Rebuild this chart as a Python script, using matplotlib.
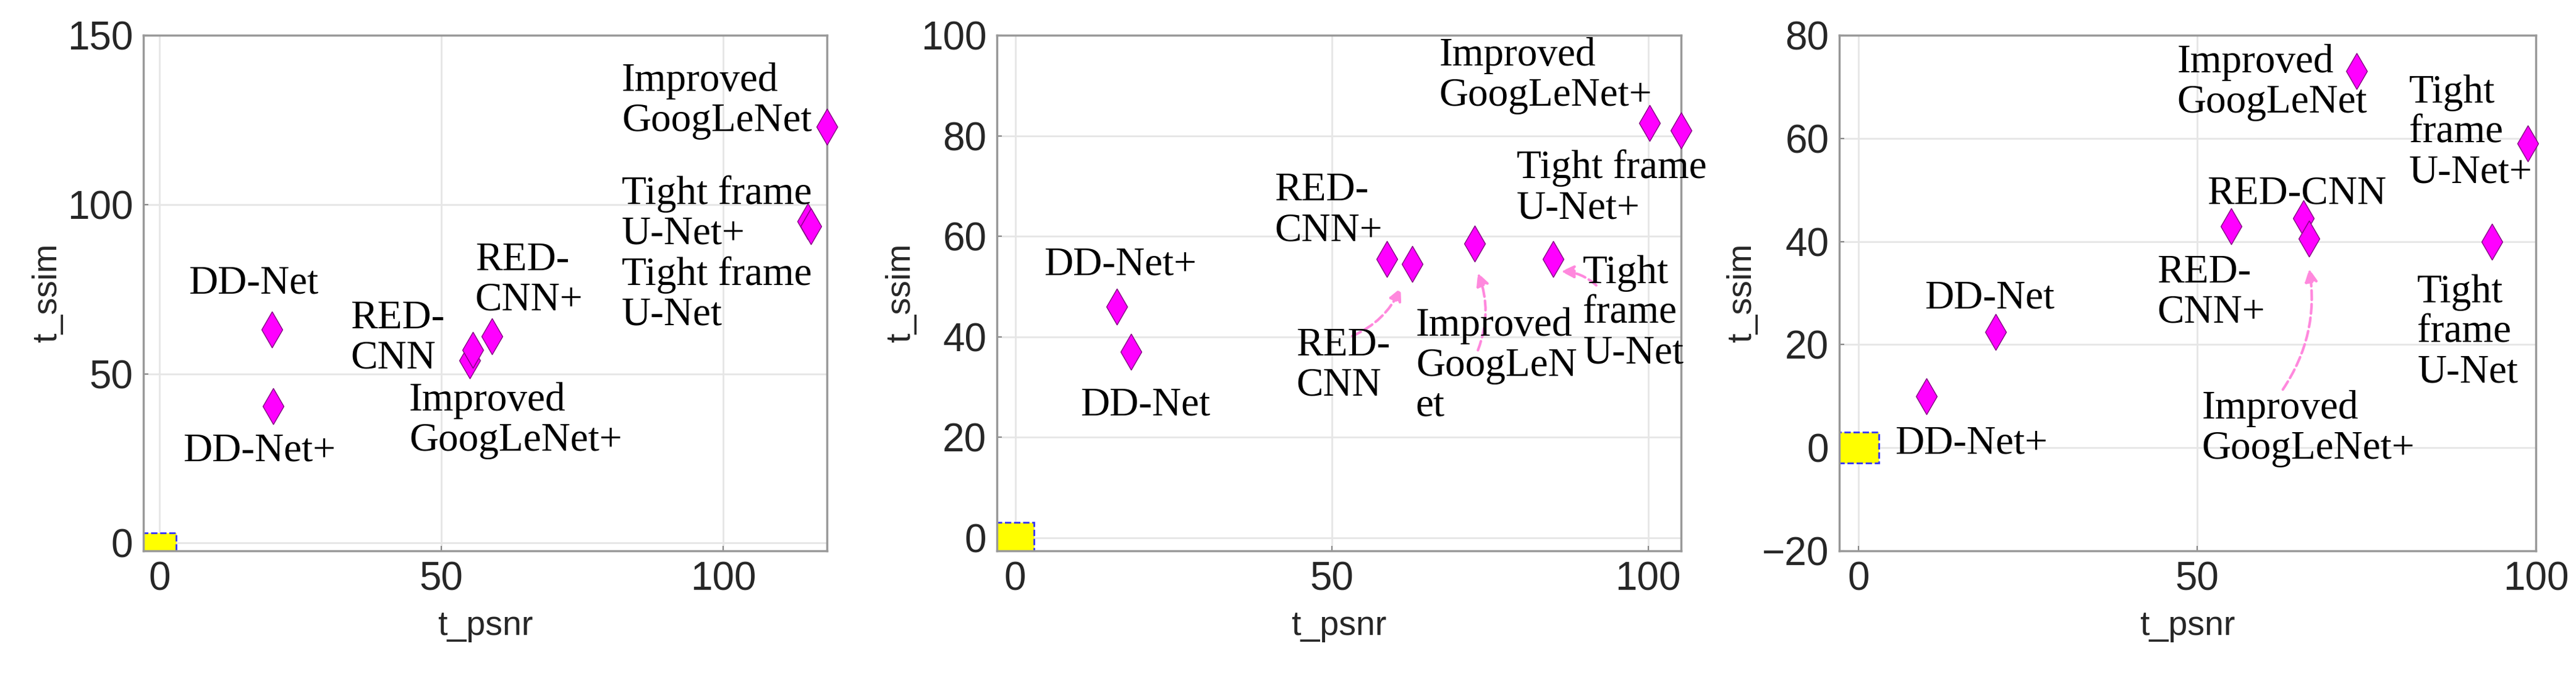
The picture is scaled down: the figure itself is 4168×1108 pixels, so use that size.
import matplotlib
matplotlib.use("Agg")
import matplotlib.pyplot as plt
from matplotlib.path import Path
from matplotlib.patches import Rectangle

plt.rcParams['font.family'] = ['Liberation Sans', 'DejaVu Sans']

W, H = 4168, 1108
# panel 1
p1_names = ["DD-Net", "DD-Net+", "RED-CNN", "Improved GoogLeNet+", "RED-CNN+", "Improved GoogLeNet", "Tight frame U-Net+", "Tight frame U-Net"]
p1_x = [20, 20.2, 55, 55.6, 59, 118.4, 115, 115.6]
p1_y = [63, 40.5, 54, 57, 61, 123, 95, 93.5]
p1_labels = [("Improved\nGoogLeNet", 82, 142), ("Tight frame\nU-Net+\nTight frame\nU-Net", 82, 108.7),
             ("DD-Net", 5.2, 82), ("RED-\nCNN", 33.9, 71.8), ("RED-\nCNN+", 56, 89),
             ("Improved\nGoogLeNet+", 44.3, 47.5), ("DD-Net+", 4.2, 32.6)]
# panel 2
p2_names = ["DD-Net+", "DD-Net", "RED-CNN+", "RED-CNN", "Improved GoogLeNet", "Tight frame U-Net", "Improved GoogLeNet+", "Tight frame U-Net+"]
p2_x = [16, 18.3, 58.7, 62.7, 72.6, 85, 100.2, 105.2]
p2_y = [46, 37, 55.5, 54.5, 58.5, 55.5, 82.5, 81]
p2_labels = [("Improved\nGoogLeNet+", 67, 99.6), ("Tight frame\nU-Net+", 79.2, 77.3), ("RED-\nCNN+", 41, 72.7),
             ("DD-Net+", 4.5, 57.9), ("DD-Net", 10.3, 30), ("Tight\nframe\nU-Net", 89.7, 56.3),
             ("Improved\nGoogLeN\net", 63.3, 45.9), ("RED-\nCNN", 44.4, 41.9)]
p2_arrows = [((53, 40), (61, 50)), ((73, 37), (73, 53)), ((92, 50), (86, 53))]
# panel 3
p3_names = ["DD-Net+", "DD-Net", "RED-CNN+", "RED-CNN", "Improved GoogLeNet+", "Improved GoogLeNet", "Tight frame U-Net", "Tight frame U-Net+"]
p3_x = [10, 20.2, 55, 65.7, 66.5, 73.5, 93.5, 98.8]
p3_y = [10, 22.5, 43, 44.5, 40.5, 73, 40, 59]
p3_labels = [("Improved\nGoogLeNet", 47, 78.3), ("Tight\nframe\nU-Net+", 81.3, 72.4), ("RED-CNN", 51.5, 52.8),
             ("RED-\nCNN+", 44.1, 37.5), ("DD-Net", 9.8, 32.5), ("Tight\nframe\nU-Net", 82.5, 33.7),
             ("DD-Net+", 5.4, 4.4), ("Improved\nGoogLeNet+", 50.7, 11.2)]
p3_arrows = [((62.5, 11), (66.5, 35))]

panels = [
    dict(x=p1_x, y=p1_y, labels=p1_labels, arrows=[], xlim=(-2.85, 118.4), ylim=(-2.3, 150),
         yticks=[0, 50, 100, 150], xticks=[0, 50, 100], px=(232, 1338)),
    dict(x=p2_x, y=p2_y, labels=p2_labels, arrows=p2_arrows, xlim=(-2.9, 105.2), ylim=(-2.6, 100),
         yticks=[0, 20, 40, 60, 80, 100], xticks=[0, 50, 100], px=(1613, 2720)),
    dict(x=p3_x, y=p3_y, labels=p3_labels, arrows=p3_arrows, xlim=(-2.85, 100), ylim=(-20, 80),
         yticks=[-20, 0, 20, 40, 60, 80], xticks=[0, 50, 100], px=(2976, 4103)),
]

diamond = Path([(0, 1), (0.58, 0), (0, -1), (-0.58, 0), (0, 1)],
               [Path.MOVETO, Path.LINETO, Path.LINETO, Path.LINETO, Path.CLOSEPOLY])

fig = plt.figure(figsize=(W / 100, H / 100), dpi=100)
top, bot = 57, 891
serif = ["Liberation Serif", "DejaVu Serif"]
for p in panels:
    x0, x1 = p["px"]
    ax = fig.add_axes([x0 / W, 1 - bot / H, (x1 - x0) / W, (bot - top) / H])
    ax.set_xlim(*p["xlim"]); ax.set_ylim(*p["ylim"])
    ax.set_xticks(p["xticks"]); ax.set_yticks(p["yticks"])
    ax.grid(True, color="#e6e6e6", lw=2)
    ax.set_axisbelow(True)
    for s in ax.spines.values():
        s.set_color("#999999"); s.set_linewidth(2.5)
    ax.tick_params(direction="in", length=6, width=1.5, color="#888888", labelsize=46,
                   labelcolor="#262626", pad=12)
    ax.set_xlabel("t_psnr", fontsize=40, color="#262626", labelpad=14)
    ax.set_ylabel("t_ssim", fontsize=40, color="#262626", labelpad=4)
    ax.add_patch(Rectangle((-3, -3), 6, 6, facecolor="#ffff00", edgecolor="#3333ff",
                           linestyle="--", lw=2, zorder=2))
    ax.plot(p["x"], p["y"], linestyle="none", marker=diamond, ms=42, mfc="#ff00ff",
            mec="#800080", mew=1, zorder=3, clip_on=False)
    for t, tx, ty in p["labels"]:
        ax.text(tx, ty, t, family=serif, fontsize=47, ha="left", va="top",
                linespacing=1.12, zorder=4, clip_on=False)
    for (sx, sy), (ex, ey) in p["arrows"]:
        ax.annotate("", xy=(ex, ey), xytext=(sx, sy),
                    arrowprops=dict(arrowstyle="-|>,head_length=1.2,head_width=0.6", color="#ff88dd",
                                    lw=3, linestyle="--", connectionstyle="arc3,rad=0.2"))
fig.savefig("out.png", dpi=100, facecolor="white")
